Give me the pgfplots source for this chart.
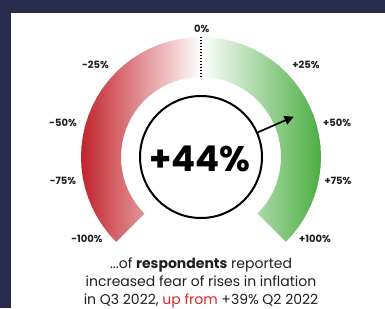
\documentclass[border=0pt]{standalone}
\usepackage{pgfplots}
\pgfplotsset{compat=1.18}
\usepackage{fontspec}
\setmainfont{Poppins}
\usetikzlibrary{arrows.meta}
\definecolor{navy}{HTML}{282B4C}
\definecolor{gred}{HTML}{C1232B}
\definecolor{ggreen}{HTML}{4BAE42}
\definecolor{txt}{HTML}{231F20}
\definecolor{upred}{HTML}{E3242B}
\begin{document}
\begin{tikzpicture}
\begin{axis}[
  width=385pt, height=308pt, scale only axis,
  xmin=-201, xmax=184, ymin=-151, ymax=157,
  hide axis, clip=false,
]
\fill[navy] (axis cs:-201,-151) rectangle (axis cs:184,157);
\fill[white] (axis cs:-190,-151) rectangle (axis cs:184,144);
% left (negative) half of the gauge: angle, radius
\addplot[draw=none, left color=gred, right color=white, data cs=polar] coordinates {
(225,120) (220,120) (215,120) (210,120) (205,120) (200,120) (195,120) (190,120)
(185,120) (180,120) (175,120) (170,120) (165,120) (160,120) (155,120) (150,120)
(145,120) (140,120) (135,120) (130,120) (125,120) (120,120) (115,120) (110,120)
(105,120) (100,120) (95,120) (90,120)
(90,80) (95,80) (100,80) (105,80) (110,80) (115,80) (120,80) (125,80) (130,80)
(135,80) (140,80) (145,80) (150,80) (155,80) (160,80) (165,80) (170,80) (175,80)
(180,80) (185,80) (190,80) (195,80) (200,80) (205,80) (210,80) (215,80) (220,80) (225,80)
} -- cycle;
% right (positive) half of the gauge
\addplot[draw=none, left color=white, right color=ggreen, data cs=polar] coordinates {
(90,120) (85,120) (80,120) (75,120) (70,120) (65,120) (60,120) (55,120) (50,120)
(45,120) (40,120) (35,120) (30,120) (25,120) (20,120) (15,120) (10,120) (5,120)
(0,120) (-5,120) (-10,120) (-15,120) (-20,120) (-25,120) (-30,120) (-35,120) (-40,120) (-45,120)
(-45,80) (-40,80) (-35,80) (-30,80) (-25,80) (-20,80) (-15,80) (-10,80) (-5,80) (0,80)
(5,80) (10,80) (15,80) (20,80) (25,80) (30,80) (35,80) (40,80) (45,80) (50,80)
(55,80) (60,80) (65,80) (70,80) (75,80) (80,80) (85,80) (90,80)
} -- cycle;
% zero marker
\addplot[black, line width=1.3pt, dash pattern=on 1.3pt off 1.7pt] coordinates {(0,120) (0,80)};
% centre circle
\draw[black, line width=2pt] (axis cs:0,0) circle[radius=61pt];
% needle
\addplot[black, line width=1.7pt, -{Triangle[length=9pt,width=9pt]}, data cs=polar] coordinates {(23.5,62) (23.5,101)};
% value
\node[font=\fontsize{35.5}{35.5}\selectfont\bfseries, text=black] at (axis cs:-1,-2) {+44\%};
% scale labels
\begin{scope}[every node/.style={font=\fontsize{10}{10}\selectfont\bfseries, text=txt, inner sep=0pt}]
\node at (axis cs:0.7,128) {0\%};
\node at (axis cs:-105.5,92) {-25\%};
\node at (axis cs:105,92) {+25\%};
\node at (axis cs:-138,34) {-50\%};
\node at (axis cs:136,34) {+50\%};
\node at (axis cs:-138,-24) {-75\%};
\node at (axis cs:137,-24) {+75\%};
\node at (axis cs:-114,-82) {-100\%};
\node at (axis cs:114,-82) {+100\%};
\end{scope}
% caption
\node[font=\fontsize{14}{18}\selectfont, text=txt, align=center, inner sep=0pt] at (axis cs:0,-126)
{...of \textbf{respondents} reported\\increased fear of rises in inflation\\in Q3 2022, \textcolor{upred}{up from} +39\% Q2 2022};
\end{axis}
\end{tikzpicture}
\end{document}
